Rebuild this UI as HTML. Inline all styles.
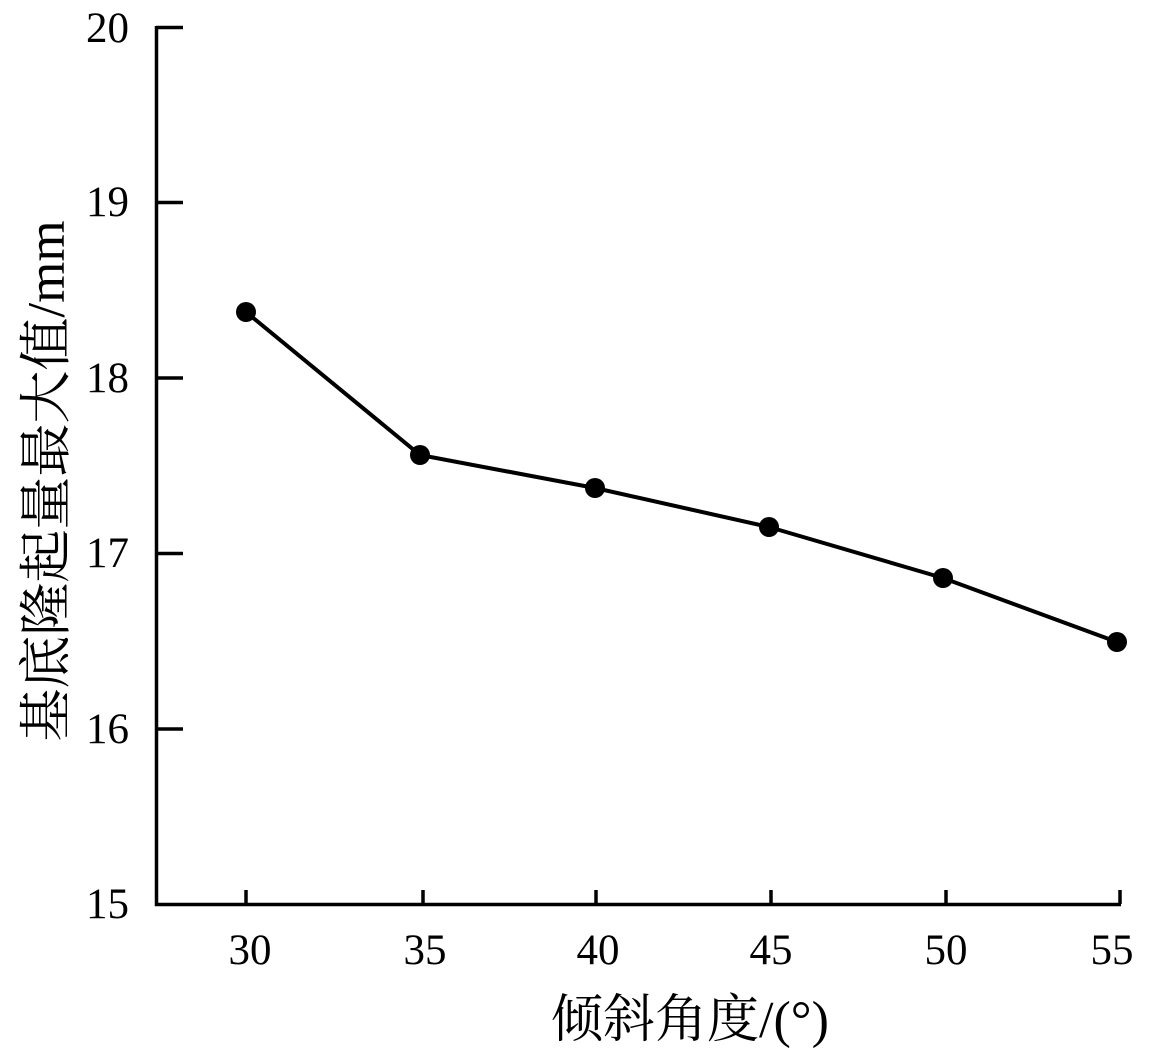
<!DOCTYPE html>
<html><head><meta charset="utf-8"><style>
html,body{margin:0;padding:0;background:#fff;}
svg{display:block;}
text{font-family:"Liberation Serif","Noto Serif CJK SC",serif;fill:#000;}
</style></head><body>
<svg width="1151" height="1059" viewBox="0 0 1151 1059" xmlns="http://www.w3.org/2000/svg">
<g stroke="#000" stroke-width="3.5" fill="none">
<polyline points="156.5,26 156.5,904.5 1121,904.5"/>
<line x1="156" y1="27.5" x2="183" y2="27.5"/>
<line x1="156" y1="202.5" x2="183" y2="202.5"/>
<line x1="156" y1="378" x2="183" y2="378"/>
<line x1="156" y1="553.5" x2="183" y2="553.5"/>
<line x1="156" y1="729" x2="183" y2="729"/>
<line x1="246" y1="904" x2="246" y2="890"/>
<line x1="423" y1="904" x2="423" y2="890"/>
<line x1="596" y1="904" x2="596" y2="890"/>
<line x1="771" y1="904" x2="771" y2="890"/>
<line x1="946" y1="904" x2="946" y2="890"/>
<line x1="1120" y1="904" x2="1120" y2="890"/>
</g>
<polyline points="246,312 420,455 595,488 769,527 943,578 1117,642" stroke="#000" stroke-width="4" fill="none"/>
<g fill="#000">
<circle cx="246" cy="312" r="10"/><circle cx="420" cy="455" r="10"/><circle cx="595" cy="488" r="10"/>
<circle cx="769" cy="527" r="10"/><circle cx="943" cy="578" r="10"/><circle cx="1117" cy="642" r="10"/>
</g>
<g font-size="43" text-anchor="end">
<text x="129" y="42">20</text>
<text x="129" y="216">19</text>
<text x="129" y="392">18</text>
<text x="129" y="567">17</text>
<text x="129" y="743">16</text>
<text x="129" y="918">15</text>
</g>
<g font-size="43" text-anchor="middle">
<text x="250" y="964">30</text>
<text x="425" y="964">35</text>
<text x="598" y="964">40</text>
<text x="771" y="964">45</text>
<text x="946" y="964">50</text>
<text x="1112" y="964">55</text>
</g>
<text x="690" y="1037" font-size="52" text-anchor="middle">倾斜角度/(°)</text>
<text transform="translate(64,481) rotate(-90)" font-size="53" text-anchor="middle">基底隆起量最大值/mm</text>
</svg>
</body></html>
